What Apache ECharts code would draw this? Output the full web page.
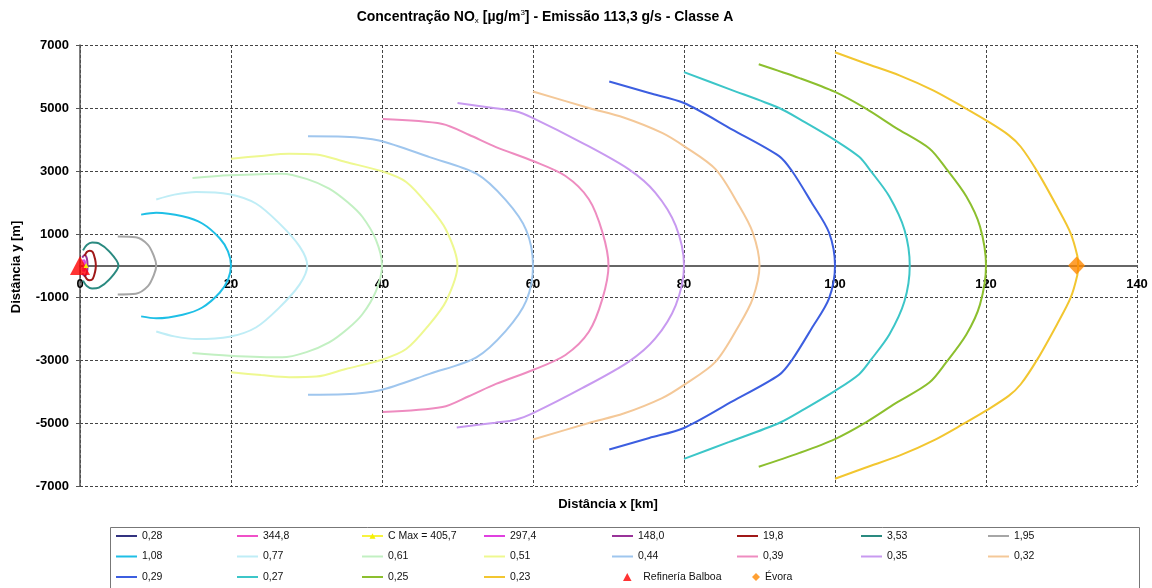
<!DOCTYPE html>
<html><head><meta charset="utf-8">
<script src="https://cdn.jsdelivr.net/npm/echarts@6/dist/echarts.min.js"></script>
<style>html,body{margin:0;padding:0;background:#fff}#c{width:1152px;height:588px}</style>
</head><body><div id="c"></div>
<script>
// ---- axis ticks ----
const X_MIN = 0, X_MAX = 140, X_STEP = 20;
const Y_MIN = -7000, Y_MAX = 7000, Y_STEP = 2000;

// ---- iso-concentration contours: [x km, y m] ----
const c028 = [];
const c3448 = [[0.3,90],[0.45,100],[0.55,0],[0.45,-100],[0.3,-90]];
const cMax = [[0.8,0]];
const c2974 = [[0.3,150],[0.55,170],[0.7,0],[0.55,-170],[0.3,-150]];
const c1480 = [[0.3,250],[0.6,330],[0.9,230],[1.0,0],[0.9,-230],[0.6,-330],[0.3,-250]];
const c198 = [[0.6,300],[0.9,430],[1.3,470],[1.7,420],[2.0,200],[2.1,0],[2.0,-200],[1.7,-420],[1.3,-470],[0.9,-430],[0.6,-300]];
const c353 = [[0.4,480],[0.9,650],[1.6,730],[2.5,700],[3.9,440],[5.1,0],[3.9,-440],[2.5,-700],[1.6,-730],[0.9,-650],[0.4,-480]];
const c195 = [[5,917],[7.4,896],[9.0,656],[9.8,292],[10.1,0],[9.8,-292],[9.0,-656],[7.4,-896],[5,-917]];
const c108 = [[8.1,1615],[10.1,1677],[13.6,1563],[16.2,1333],[18.5,865],[19.6,448],[20,0],[19.6,-448],[18.5,-865],[16.2,-1333],[13.6,-1563],[10.1,-1677],[8.1,-1615]];
const c077 = [[10.1,2095],[12.5,2250],[15.4,2337],[19.8,2263],[23.3,1968],[26.4,1337],[29.1,600],[30.1,0],[29.1,-600],[26.4,-1337],[23.3,-1968],[19.8,-2263],[15.4,-2337],[12.5,-2250],[10.1,-2095]];
const c061 = [[14.9,2780],[19.8,2863],[26.8,2916],[30,2750],[33,2442],[35.5,2000],[37.4,1547],[39.2,810],[40,0],[39.2,-810],[37.4,-1547],[35.5,-2000],[33,-2442],[30,-2750],[26.8,-2916],[19.8,-2863],[14.9,-2780]];
const c051 = [[20,3390],[24,3480],[27.7,3547],[31.3,3526],[35.2,3284],[40,2990],[43.2,2653],[46.3,1863],[48.5,1126],[50,0],[48.5,-1126],[46.3,-1863],[43.2,-2653],[40,-2990],[35.2,-3284],[31.3,-3526],[27.7,-3547],[24,-3480],[20,-3390]];
const c044 = [[30.2,4105],[35,4090],[39.6,3970],[46.3,3440],[52.5,2915],[56.4,2075],[59.1,1126],[60,0],[59.1,-1126],[56.4,-2075],[52.5,-2915],[46.3,-3440],[39.6,-3970],[35,-4090],[30.2,-4105]];
const c039 = [[40.1,4650],[48,4495],[51.5,4150],[55.1,3760],[60,3316],[64.3,2840],[67.4,2105],[69.2,1052],[70,0],[69.2,-1052],[67.4,-2105],[64.3,-2840],[60,-3316],[55.1,-3760],[51.5,-4150],[48,-4495],[40.1,-4650]];
const c035 = [[50,5160],[55,4990],[57.7,4895],[60,4680],[66.5,3895],[72.7,3050],[76.2,2315],[78.9,1263],[80,0],[78.9,-1263],[76.2,-2315],[72.7,-3050],[66.5,-3895],[60,-4687],[57.7,-4895],[55,-4990],[49.9,-5143]];
const c032 = [[60,5526],[67.4,5000],[72,4700],[77.1,4210],[80,3790],[84.2,3050],[87.3,1895],[89.1,1050],[90,0],[89.1,-1050],[87.3,-1895],[84.2,-3050],[80,-3790],[77.1,-4210],[72,-4700],[67.4,-5000],[60,-5526]];
const c029 = [[70.1,5840],[75.4,5474],[80,5158],[86.4,4316],[92.6,3474],[94.3,3000],[96.9,2000],[99.2,1050],[100,0],[99.2,-1050],[96.9,-2000],[94.3,-3000],[92.6,-3474],[86.4,-4316],[80,-5158],[75.4,-5474],[70.1,-5840]];
const c027 = [[80,6137],[86,5600],[92.6,5000],[96,4550],[100,3980],[103.2,3450],[104.8,2980],[107.2,2190],[109.2,1137],[109.9,0],[109.2,-1137],[107.2,-2190],[104.8,-2980],[103.2,-3450],[100,-3980],[96,-4550],[92.6,-5000],[86,-5600],[80,-6137]];
const c025 = [[89.9,6390],[95.3,5950],[100,5510],[104.1,4980],[108,4380],[112.5,3716],[114.7,3084],[117.4,2190],[119.2,1242],[120,0],[119.2,-1242],[117.4,-2190],[114.7,-3084],[112.5,-3716],[108,-4380],[104.1,-4980],[100,-5510],[95.3,-5950],[89.9,-6390]];
const c023 = [[100,6770],[104,6420],[108.6,6030],[113,5560],[117,5030],[120,4610],[123,4140],[124.6,3770],[126.8,2980],[129.4,1870],[131.2,1030],[132.1,300],[132.2,0],[132.1,-300],[131.2,-1030],[129.4,-1870],[126.8,-2980],[124.6,-3770],[123,-4140],[120,-4610],[117,-5030],[113,-5560],[108.6,-6030],[104,-6420],[100,-6770]];
const refinery = [[0,0]];
const evora = [[132,0]];

const contourNames = ['0,28','344,8','297,4','148,0','19,8','3,53','1,95','1,08','0,77','0,61','0,51','0,44','0,39','0,35','0,32','0,29','0,27','0,25','0,23'];
const contourData = [c028,c3448,c2974,c1480,c198,c353,c195,c108,c077,c061,c051,c044,c039,c035,c032,c029,c027,c025,c023];

// ---- styles ----
const colors = {
  '0,28':'#333380','344,8':'#f050c8','C Max = 405,7':'#f5f000','297,4':'#e040e0','148,0':'#993399',
  '19,8':'#a01818','3,53':'#2a8a80','1,95':'#a6a6a6','1,08':'#1ebfe6','0,77':'#bfedf6','0,61':'#c2f0c2',
  '0,51':'#eef890','0,44':'#9fc6ee','0,39':'#ee8cc0','0,35':'#c89af0','0,32':'#f4c898','0,29':'#3c5ee0',
  '0,27':'#3cc6c8','0,25':'#8cbf2e','0,23':'#f2c630','Refinería Balboa':'#ff0000','Évora':'#ff8800'
};
const FONT = '"Liberation Sans", Arial, sans-serif';
const LINE_ICON = 'path://M0,0h21v2h-21z';
const CMAX_ICON = 'path://M0,4h21v1.6h-21z M7.5,7.5L10.5,2L13.5,7.5z';
const TRI_ICON = 'path://M4,0L8,7.5L0,7.5z';

const series = contourNames.map((n, i) => ({
  name: n, type: 'line', data: contourData[i], symbol: 'none', smooth: 0.3,
  lineStyle: { color: colors[n], width: 2 }, itemStyle: { color: colors[n] }, z: 2
}));
series.push({ name: 'Refinería Balboa', type: 'scatter', data: refinery, symbol: 'triangle', symbolSize: [20, 19], itemStyle: { color: colors['Refinería Balboa'] }, z: 5 });
series.push({ name: 'C Max = 405,7', type: 'line', data: cMax, symbol: 'triangle', symbolSize: 5, lineStyle: { color: colors['C Max = 405,7'], width: 2 }, itemStyle: { color: colors['C Max = 405,7'] }, z: 6 });
series.push({ name: 'Évora', type: 'scatter', data: evora, symbol: 'diamond', symbolSize: [17, 18], itemStyle: { color: colors['Évora'] }, z: 5 });

const legendCols = [
  ['0,28','1,08','0,29'], ['344,8','0,77','0,27'], ['C Max = 405,7','0,61','0,25'], ['297,4','0,51','0,23'],
  ['148,0','0,44'], ['19,8','0,39'], ['3,53','0,35'], ['1,95','0,32']
];
const legendText = [142,263,388,510,638,763,887,1014];
const legTextStyle = { fontSize: 10.5, fontFamily: FONT, color: '#111', lineHeight: 12 };
const legends = legendCols.map((col, i) => ({
  orient: 'vertical', left: legendText[i] - 26, top: 530, padding: 0, itemWidth: 21, itemHeight: 8, itemGap: 8.5,
  selectedMode: false, textStyle: legTextStyle,
  data: col.map(n => ({ name: n, icon: n.indexOf('C Max') === 0 ? CMAX_ICON : LINE_ICON }))
}));
legends.push({ orient: 'vertical', left: 623, top: 571, padding: 0, itemWidth: 22, itemHeight: 8, selectedMode: false, symbolKeepAspect: true, textStyle: legTextStyle, data: [{ name: 'Refinería Balboa', icon: TRI_ICON }] });
legends.push({ orient: 'vertical', left: 752, top: 571, padding: 0, itemWidth: 8, itemHeight: 8, selectedMode: false, textStyle: legTextStyle, data: ['Évora'] });

const chart = echarts.init(document.getElementById('c'));
chart.setOption({
  animation: false,
  backgroundColor: '#fff',
  title: {
    text: '{a|Concentração NO}{s|x}{a| [µg/m}{p|3}{a|] - Emissão 113,3 g/s - Classe A}',
    left: 545, top: 9, padding: 0, textAlign: 'center', textVerticalAlign: 'top',
    textStyle: { rich: {
      a: { fontSize: 14, fontWeight: 'bold', fontFamily: FONT, color: '#000', lineHeight: 16 },
      s: { fontSize: 8, fontWeight: 'normal', fontFamily: FONT, color: '#000', verticalAlign: 'bottom', lineHeight: 8 },
      p: { fontSize: 8, fontWeight: 'normal', fontFamily: FONT, color: '#000', verticalAlign: 'top', lineHeight: 8 }
    } }
  },
  legend: legends,
  grid: { left: 80, right: 15, top: 45, bottom: 102, containLabel: false },
  xAxis: {
    type: 'value', min: X_MIN, max: X_MAX, interval: X_STEP,
    position: 'bottom', offset: -220.5,
    axisLine: { onZero: false, lineStyle: { color: '#666', width: 2 } },
    axisTick: { show: false },
    axisLabel: { fontSize: 13, fontWeight: 'bold', fontFamily: FONT, color: '#000', margin: 12, formatter: v => String(v) },
    splitLine: { show: true, lineStyle: { color: '#444', width: 1, type: [3, 2] } }
  },
  yAxis: {
    type: 'value', min: Y_MIN, max: Y_MAX, interval: Y_STEP,
    axisLine: { show: true, onZero: false, lineStyle: { color: '#555', width: 1.5 } },
    axisTick: { show: true, length: 4, lineStyle: { color: '#555' } },
    axisLabel: { fontSize: 13, fontWeight: 'bold', fontFamily: FONT, color: '#000', margin: 11, formatter: v => String(v) },
    splitLine: { show: true, lineStyle: { color: '#444', width: 1, type: [3, 2] } }
  },
  graphic: [
    { type: 'rect', left: 108, top: 525, shape: { width: 1029, height: 70 }, style: { fill: 'none', stroke: '#777', lineWidth: 1 }, silent: true },
    { type: 'text', x: 608, y: 504, style: { text: 'Distância x [km]', font: 'bold 13px ' + FONT, fill: '#000', align: 'center', verticalAlign: 'middle', textAlign: 'center', textVerticalAlign: 'middle' } },
    { type: 'text', x: 16, y: 267, rotation: Math.PI / 2, style: { text: 'Distância y [m]', font: 'bold 13px ' + FONT, fill: '#000', align: 'center', verticalAlign: 'middle', textAlign: 'center', textVerticalAlign: 'middle' } }
  ],
  series: series
});
</script></body></html>
